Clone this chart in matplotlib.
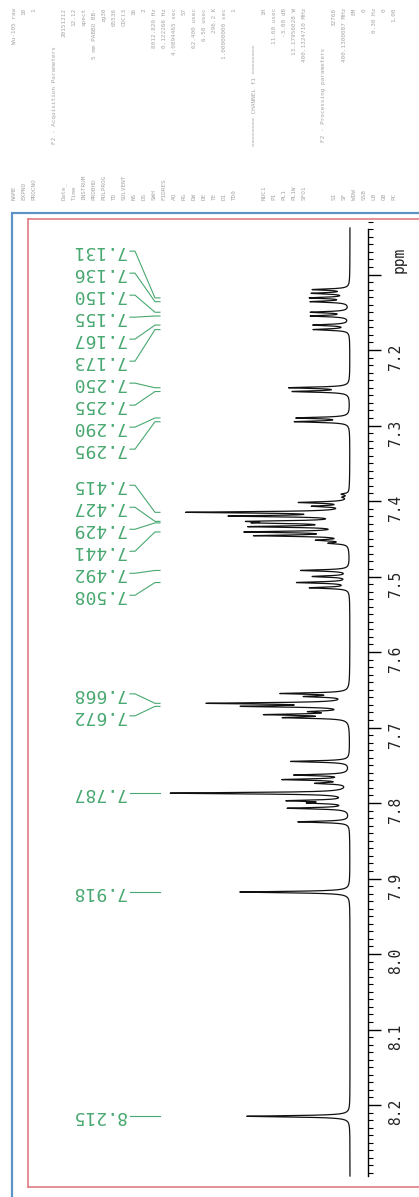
import numpy as np
import matplotlib.pyplot as plt
from matplotlib.patches import Rectangle
from matplotlib.ticker import FixedLocator, FuncFormatter

plt.rcParams['font.family'] = ['DejaVu Sans Mono', 'DejaVu Sans']

# peak list: chemical shift (ppm) and relative height
shifts = [7.120, 7.125, 7.131, 7.136, 7.150, 7.155, 7.167, 7.173,
          7.250, 7.255, 7.290, 7.295,
          7.391, 7.395, 7.402, 7.407, 7.415, 7.420, 7.427, 7.429,
          7.434, 7.441, 7.446, 7.452, 7.456,
          7.492, 7.500, 7.508, 7.515,
          7.655, 7.659, 7.668, 7.672, 7.679, 7.683, 7.687,
          7.745, 7.763, 7.769, 7.774, 7.787, 7.797, 7.800, 7.807, 7.825,
          7.918, 8.215]
heights = [0.20, 0.20, 0.21, 0.21, 0.21, 0.21, 0.20, 0.20,
           0.33, 0.31, 0.29, 0.30,
           0.04, 0.03, 0.27, 0.18, 0.88, 0.62, 0.45, 0.40,
           0.52, 0.55, 0.50, 0.16, 0.10,
           0.27, 0.20, 0.29, 0.22,
           0.37, 0.22, 0.76, 0.55, 0.18, 0.44, 0.34,
           0.33, 0.30, 0.36, 0.17, 1.00, 0.32, 0.19, 0.34, 0.29,
           0.62, 0.58]

# peaks carrying a printed shift label
labelled = [7.131, 7.136, 7.150, 7.155, 7.167, 7.173, 7.250, 7.255,
            7.290, 7.295, 7.415, 7.427, 7.429, 7.441, 7.492, 7.508,
            7.668, 7.672, 7.787, 7.918, 8.215]

# acquisition / processing parameter block (printed beside the spectrum)
param_names = ["NAME", "EXPNO", "PROCNO", "", "F2 - Acquisition Parameters",
               "Date_", "Time", "INSTRUM", "PROBHD", "PULPROG", "TD",
               "SOLVENT", "NS", "DS", "SWH", "FIDRES", "AQ", "RG", "DW",
               "DE", "TE", "D1", "TD0", "", "======== CHANNEL f1 ========",
               "NUC1", "P1", "PL1", "PL1W", "SFO1", "",
               "F2 - Processing parameters", "SI", "SF", "WDW", "SSB",
               "LB", "GB", "PC"]
param_values = ["Wu-105 raw", "10", "1", "", "",
                "20151212", "12.12", "spect", "5 mm PABBO BB-", "zg30",
                "65536", "CDCl3", "16", "2", "8012.820 Hz", "0.122266 Hz",
                "4.0894465 sec", "57", "62.400 usec", "6.50 usec",
                "296.2 K", "1.00000000 sec", "1", "", "",
                "1H", "11.60 usec", "-3.00 dB", "13.17956028 W",
                "400.1324710 MHz", "", "", "32768", "400.1300087 MHz",
                "EM", "0", "0.30 Hz", "0", "1.00"]

W, H = 419, 1197
fig = plt.figure(figsize=(W / 100, H / 100), dpi=100)


def ix(px):
    # pixel column -> intensity units (baseline at px 350, peaks grow left)
    return (350 - px) / 178.0


def py(px):
    # pixel row -> ppm
    return 7.2 + (px - 350) / 755.0


ax = fig.add_axes([28 / W, 1 - 1187 / H, (440 - 28) / W, (1187 - 219) / H])
ax.set_xlim(ix(28), ix(440))
ax.set_ylim(py(1187), py(219))

# spectrum as sum of narrow lorentzians
gam = 0.0011
ppm = np.linspace(py(1176), py(228), 14000)
spec = np.zeros_like(ppm)
for s, h in zip(shifts, heights):
    spec += h * gam ** 2 / (gam ** 2 + (ppm - s) ** 2)
ax.plot(spec, ppm, color='#111111', lw=0.9)

# frames
red = '#e07c86'
for side in ['left', 'top', 'bottom']:
    ax.spines[side].set_color(red)
    ax.spines[side].set_linewidth(1.2)
ax.spines['right'].set_position(('data', ix(368)))
ax.spines['right'].set_bounds(py(1176), py(229))
ax.spines['right'].set_linewidth(1.0)
ax.set_xticks([])
ax.yaxis.set_ticks_position('right')
ax.yaxis.set_major_locator(FixedLocator(np.round(np.arange(7.1, 8.25, 0.1), 2)))
ax.yaxis.set_minor_locator(FixedLocator(np.round(np.arange(7.02, 8.295, 0.01), 3)))
ax.yaxis.set_major_formatter(FuncFormatter(lambda v, p: '' if v < 7.15 else f'{v:.1f}'))
ax.tick_params(axis='y', which='major', direction='out', length=9.5, width=1,
               labelsize=10.5, labelrotation=90, pad=5, labelcolor='#222222')
ax.tick_params(axis='y', which='minor', direction='out', length=3.5, width=0.8)
ax.text(ix(399), 7.08, 'ppm', rotation=90, ha='center', va='center',
        fontsize=10.5, color='#222222')

fig.patches.append(Rectangle((12 / W, -0.002), 1.2, (H - 211) / H,
                             transform=fig.transFigure, fill=False,
                             ec='#5d93c8', lw=1.6))


# shift labels, spread so they do not overlap
def spread(vals, gap):
    pos = list(vals)
    for _ in range(2000):
        moved = False
        for i in range(len(pos) - 1):
            d = pos[i + 1] - pos[i]
            if d < gap - 1e-9:
                sh = (gap - d) / 2
                pos[i] -= sh
                pos[i + 1] += sh
                moved = True
        if not moved:
            break
    return pos


green = '#48a870'
lab_pos = spread(sorted(labelled), 22.0 / 755)
for s, lp in zip(sorted(labelled), lab_pos):
    ax.plot([ix(130), ix(135), ix(155), ix(160)], [lp, lp, s, s],
            color=green, lw=0.8)
    ax.text(ix(126), lp, f'{s:.3f}', rotation=180, rotation_mode='anchor',
            ha='left', va='center', color=green, fontsize=13)

# parameter block at the top
for i, (n, v) in enumerate(zip(param_names, param_values)):
    x = (14 + i * 10.0) / W
    if n.startswith('F2') or n.startswith('='):
        fig.text(x, 1 - 95 / H, n, rotation=90, ha='center', va='center',
                 fontsize=4.3, color='#a6a6a6')
        continue
    if n:
        fig.text(x, 1 - 200 / H, n, rotation=90, rotation_mode='anchor',
                 ha='left', va='center', fontsize=4.3, color='#a6a6a6')
    if v:
        fig.text(x, 1 - 8 / H, v, rotation=90, rotation_mode='anchor',
                 ha='right', va='center', fontsize=4.3, color='#a6a6a6')

fig.savefig('out.png', dpi=100)
